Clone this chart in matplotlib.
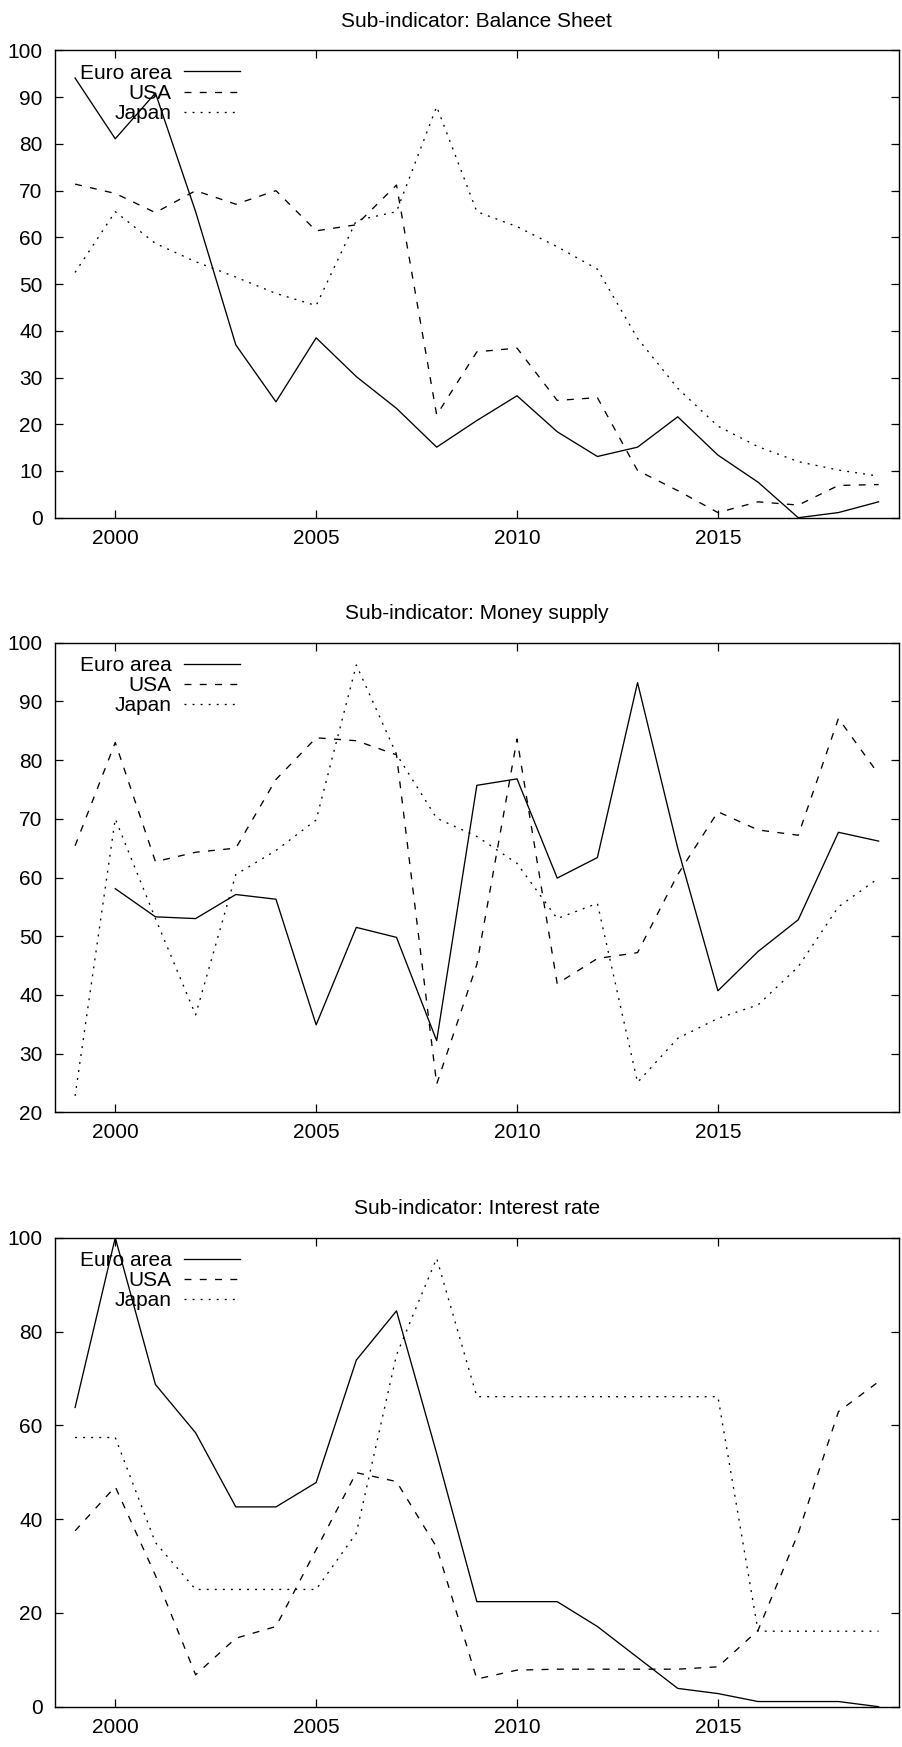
import numpy as np
import matplotlib
matplotlib.use("Agg")
import matplotlib.pyplot as plt

plt.rcParams['font.family'] = ['Liberation Sans', 'DejaVu Sans']
plt.rcParams['lines.scale_dashes'] = False

years = list(range(1999, 2020))
series_names = ["Euro area", "USA", "Japan"]
nan = np.nan

# Sub-indicator: Balance Sheet
bs_euro = [94.1, 81.1, 90.9, 65.5, 37.0, 24.8, 38.5, 30.2, 23.4, 15.1, 20.8,
           26.1, 18.4, 13.1, 15.1, 21.6, 13.4, 7.6, 0.0, 1.1, 3.4]
bs_usa = [71.4, 69.4, 65.3, 70.0, 67.1, 70.0, 61.4, 62.7, 71.2, 22.0, 35.5,
          36.3, 25.1, 25.7, 10.1, 5.8, 1.1, 3.4, 2.7, 6.9, 7.1]
bs_japan = [52.5, 65.5, 58.7, 54.8, 51.5, 48.0, 45.4, 63.6, 65.5, 88.0, 65.5,
            62.3, 58.0, 53.2, 38.4, 27.7, 19.6, 15.2, 12.0, 10.2, 8.9]

# Sub-indicator: Money supply (no euro figure for 1999)
ms_euro = [nan, 58.1, 53.3, 53.0, 57.1, 56.3, 34.9, 51.5, 49.8, 32.2, 75.7,
           76.8, 59.9, 63.4, 93.2, 65.0, 40.7, 47.4, 52.8, 67.7, 66.2]
ms_usa = [65.4, 83.0, 62.7, 64.3, 65.0, 76.7, 83.8, 83.3, 80.9, 24.8, 45.2,
          83.6, 41.9, 46.2, 47.2, 60.5, 71.2, 68.1, 67.2, 87.1, 77.6]
ms_japan = [22.8, 70.0, 53.0, 36.6, 60.5, 64.6, 69.8, 96.2, 81.0, 70.1, 67.0,
            62.4, 53.0, 55.6, 25.1, 32.6, 36.0, 38.3, 44.8, 55.0, 59.9]

# Sub-indicator: Interest rate
ir_euro = [63.8, 100.0, 68.7, 58.4, 42.6, 42.6, 47.8, 73.9, 84.4, 54.0, 22.4,
           22.4, 22.4, 17.1, 10.5, 3.9, 2.8, 1.1, 1.1, 1.1, 0.0]
ir_usa = [37.5, 46.9, 28.0, 6.8, 14.6, 17.1, 33.5, 49.9, 48.0, 34.0, 5.9,
          7.8, 8.0, 8.0, 8.0, 8.0, 8.5, 16.3, 37.0, 62.9, 69.3]
ir_japan = [57.4, 57.4, 35.0, 25.0, 25.0, 25.0, 25.0, 37.0, 75.0, 95.6, 66.1,
            66.1, 66.1, 66.1, 66.1, 66.1, 66.1, 16.1, 16.1, 16.1, 16.1]

panels = [
    ("Sub-indicator: Balance Sheet", [bs_euro, bs_usa, bs_japan], (0, 100), 10),
    ("Sub-indicator: Money supply", [ms_euro, ms_usa, ms_japan], (20, 100), 10),
    ("Sub-indicator: Interest rate", [ir_euro, ir_usa, ir_japan], (0, 100), 20),
]

# solid / dashed / dotted, gnuplot style
styles = [
    dict(linestyle='-'),
    dict(linestyle=(0, (5, 6))),
    dict(linestyle=(0, (1.4, 4.4))),
]

fig = plt.figure(figsize=(9.02, 17.47), dpi=100)
W, H = 902, 1747
left, right = 55, 898.7
boxes = [(50.5, 517.7), (642.7, 1112.3), (1237.7, 1706.7)]  # pixel top/bottom

FS = 15
for (title, data, ylim, ystep), (top, bot) in zip(panels, boxes):
    ax = fig.add_axes([left / W, 1 - bot / H, (right - left) / W, (bot - top) / H])
    for vals, name, st in zip(data, series_names, styles):
        ax.plot(years, vals, color='black', linewidth=0.95, label=name, **st)
    ax.set_xlim(1998.5, 2019.5)
    ax.set_ylim(*ylim)
    ax.set_xticks([2000, 2005, 2010, 2015])
    ax.set_yticks(np.arange(ylim[0], ylim[1] + 1, ystep))
    ax.tick_params(direction='in', length=6, width=0.9, top=True, right=True,
                   labelsize=FS)
    ax.tick_params(axis='x', pad=8)
    ax.tick_params(axis='y', pad=9)
    for sp in ax.spines.values():
        sp.set_linewidth(1.0)
    ax.set_title(title, fontsize=FS, pad=17)
    ax.legend(loc='upper left', bbox_to_anchor=(0.0296, 0.972), frameon=False,
              markerfirst=False, fontsize=FS, handlelength=2.7,
              handletextpad=0.6, labelspacing=0.06, borderaxespad=0,
              borderpad=0)

fig.savefig("out.png", dpi=100)
